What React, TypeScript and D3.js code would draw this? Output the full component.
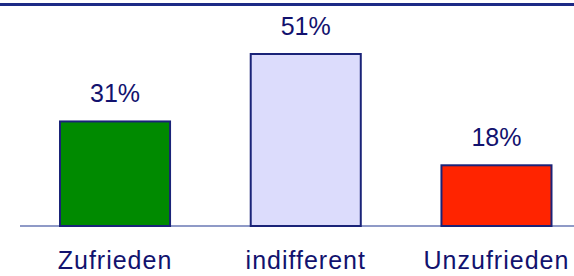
import React, { useEffect, useRef } from 'react';
import * as d3 from 'd3';

const categories = ['Zufrieden', 'indifferent', 'Unzufrieden'];
const values = [31, 51, 18];
const barColors = ['#008a00', '#dcdcfc', '#ff2400'];

const W = 574;
const H = 276;

const App = () => {
  const ref = useRef<SVGSVGElement>(null);

  useEffect(() => {
    const svg = d3.select(ref.current);
    svg.selectAll('*').remove();

    const baseY = 226;
    const x = d3.scaleBand<string>()
      .domain(categories)
      .range([60, 551.5])
      .paddingInner(0.423)
      .paddingOuter(0);

    const y = d3.scaleLinear()
      .domain([0, 51])
      .range([baseY, 54]);

    // top rule
    svg.append('line')
      .attr('x1', 0).attr('x2', W)
      .attr('y1', 4.5).attr('y2', 4.5)
      .attr('stroke', '#1c2a86')
      .attr('stroke-width', 3);

    // baseline
    svg.append('line')
      .attr('x1', 20).attr('x2', W)
      .attr('y1', baseY).attr('y2', baseY)
      .attr('stroke', '#6a78b4')
      .attr('stroke-width', 1.5);

    const data = categories.map((c, i) => ({ c, v: values[i], color: barColors[i] }));

    svg.selectAll('.bar')
      .data(data)
      .enter()
      .append('rect')
      .attr('class', 'bar')
      .attr('x', d => x(d.c)!)
      .attr('y', d => y(d.v))
      .attr('width', x.bandwidth())
      .attr('height', d => baseY - y(d.v))
      .attr('fill', d => d.color)
      .attr('stroke', '#1a2378')
      .attr('stroke-width', 2);

    svg.selectAll('.label')
      .data(data)
      .enter()
      .append('text')
      .attr('x', d => x(d.c)! + x.bandwidth() / 2)
      .attr('y', d => y(d.v) - 19)
      .attr('text-anchor', 'middle')
      .style('fill', '#12126e')
      .style('font-family', 'Liberation Sans, Arial, sans-serif')
      .style('font-size', '25px')
      .text(d => `${d.v}%`);

    svg.selectAll('.cat')
      .data(data)
      .enter()
      .append('text')
      .attr('x', d => x(d.c)! + x.bandwidth() / 2)
      .attr('y', 269)
      .attr('text-anchor', 'middle')
      .style('fill', '#12126e')
      .style('font-family', 'Liberation Sans, Arial, sans-serif')
      .style('font-size', '25px')
      .style('letter-spacing', '1px')
      .text(d => d.c);
  }, []);

  return (
    <svg
      ref={ref}
      width={W}
      height={H}
      style={{ position: 'absolute', left: 0, top: 0, background: '#fff' }}
    />
  );
};

export default App;
